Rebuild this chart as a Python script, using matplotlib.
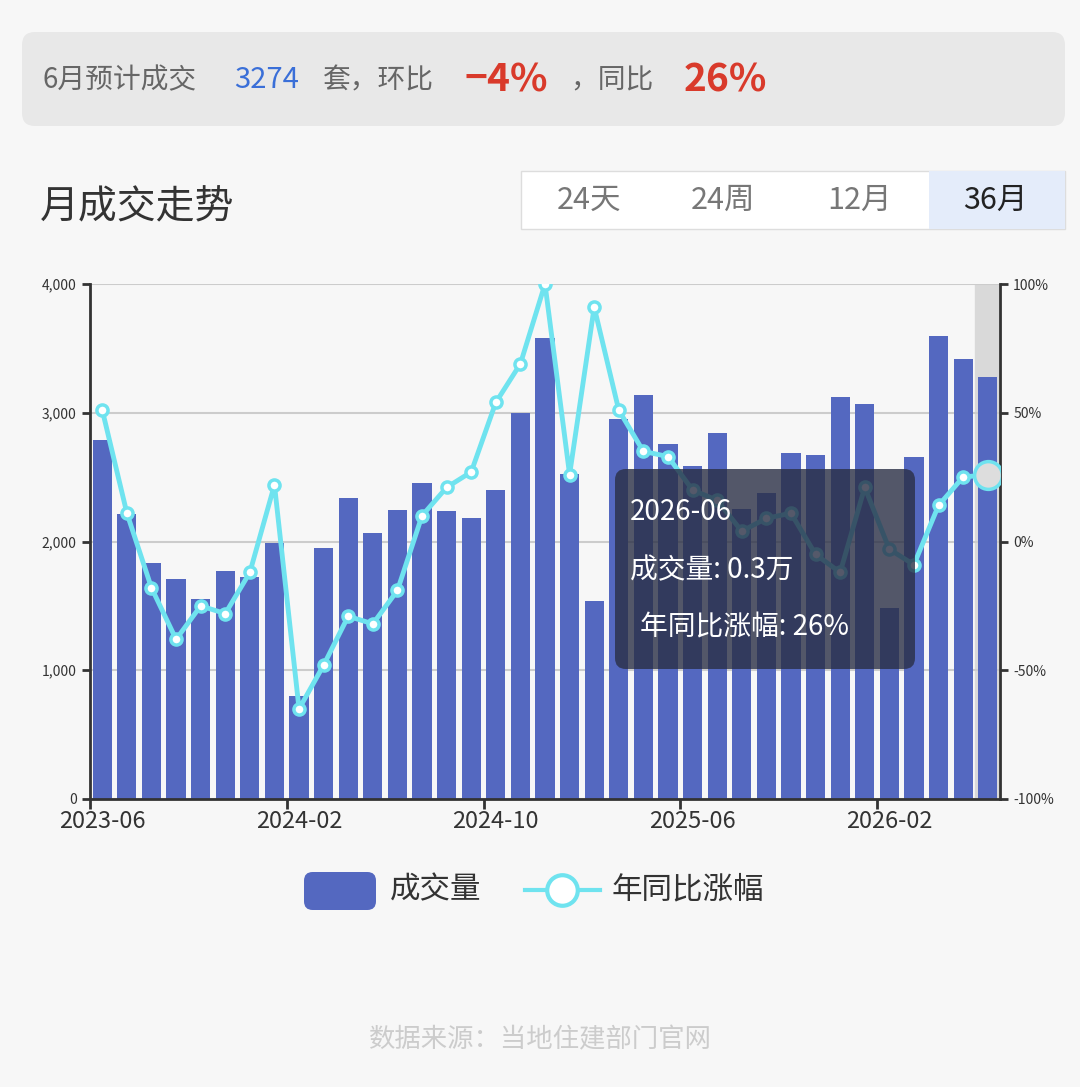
import matplotlib.pyplot as plt
import numpy as np
from matplotlib.patches import FancyBboxPatch, Rectangle

plt.rcParams['font.family'] = ['Noto Sans CJK SC', 'DejaVu Sans']

months = ['2023-06', '2023-07', '2023-08', '2023-09', '2023-10', '2023-11', '2023-12',
          '2024-01', '2024-02', '2024-03', '2024-04', '2024-05', '2024-06', '2024-07',
          '2024-08', '2024-09', '2024-10', '2024-11', '2024-12', '2025-01', '2025-02',
          '2025-03', '2025-04', '2025-05', '2025-06', '2025-07', '2025-08', '2025-09',
          '2025-10', '2025-11', '2025-12', '2026-01', '2026-02', '2026-03', '2026-04',
          '2026-05', '2026-06']
volume = [2790, 2214, 1833, 1709, 1553, 1771, 1724, 1988, 800, 1950, 2338, 2066, 2245,
          2454, 2237, 2183, 2400, 3000, 3580, 2524, 1538, 2951, 3138, 2757, 2587, 2843,
          2250, 2376, 2687, 2672, 3122, 3068, 1483, 2656, 3596, 3417, 3274]
yoy = [51, 11, -18, -38, -25, -28, -12, 22, -65, -48, -29, -32, -19, 10, 21, 27, 54, 69,
       100, 26, 91, 51, 35, 33, 20, 16, 4, 9, 11, -5, -12, 21, -3, -9, 14, 25, 26]
tick_idx = [0, 8, 16, 24, 32]

bar_color = '#5468c0'
line_color = '#6fe3ef'
bg = '#f7f7f7'

fig = plt.figure(figsize=(10.8, 10.87), dpi=100, facecolor=bg)
W, H = 1080, 1087

def fx(px):
    return px / W

def fy(py):
    return 1 - py / H

# header box
fig.patches.append(FancyBboxPatch((fx(22), fy(126)), fx(1043), 94 / H,
                                  boxstyle='round,pad=0,rounding_size=0.012',
                                  transform=fig.transFigure, facecolor='#e8e8e8',
                                  edgecolor='none'))
yh = fy(80)
fig.text(fx(42), yh, '6月预计成交', fontsize=20, color='#666666', va='center')
fig.text(fx(234), yh, '3274', fontsize=21, color='#3a6fd8', va='center')
fig.text(fx(323), yh, '套，环比', fontsize=20, color='#666666', va='center')
fig.text(fx(465), yh, '−4%', fontsize=28, color='#d93a2b', va='center', fontweight='bold')
fig.text(fx(570), yh, '，同比', fontsize=20, color='#666666', va='center')
fig.text(fx(684), yh, '26%', fontsize=28, color='#d93a2b', va='center', fontweight='bold')

fig.text(fx(40), fy(207), '月成交走势', fontsize=28, color='#333333', va='center')

# segmented buttons
fig.patches.append(Rectangle((fx(521), fy(229)), fx(544), 58 / H, transform=fig.transFigure,
                             facecolor='white', edgecolor='#dddddd', lw=1))
fig.patches.append(Rectangle((fx(929), fy(229)), fx(136), 58 / H, transform=fig.transFigure,
                             facecolor='#e4ecfa', edgecolor='none'))
for lab, cx, c in [('24天', 589, '#777777'), ('24周', 723, '#777777'),
                   ('12月', 859, '#777777'), ('36月', 995, '#222222')]:
    fig.text(fx(cx), fy(200), lab, fontsize=22, color=c, ha='center', va='center')

ax = fig.add_axes([fx(90), fy(799), fx(910), 515 / H])
ax.set_facecolor(bg)
x = np.arange(len(months))
ax.axvspan(len(months) - 1.5, len(months) - 0.5, color='#d9d9d9', zorder=0)
ax.bar(x, volume, width=0.78, color=bar_color, zorder=2)
ax.set_xlim(-0.5, len(months) - 0.5)
ax.set_ylim(0, 4000)
ax.set_yticks([0, 1000, 2000, 3000, 4000])
ax.set_yticklabels(['0', '1,000', '2,000', '3,000', '4,000'], fontsize=10, color='#333333')
ax.grid(axis='y', color='#cccccc', lw=1.5, zorder=1)
ax.set_axisbelow(True)
ax.set_xticks(tick_idx)
ax.set_xticklabels([months[i] for i in tick_idx], fontsize=17, color='#333333')
ax.tick_params(axis='x', length=0, pad=8)
ax.set_xticks([i - 0.5 for i in tick_idx], minor=True)
ax.tick_params(axis='x', which='minor', length=7, width=2, color='#333333')
ax.tick_params(axis='y', length=6, width=2, color='#333333')
for s in ['top', 'right']:
    ax.spines[s].set_visible(False)
for s in ['left', 'bottom']:
    ax.spines[s].set_linewidth(2)
    ax.spines[s].set_color('#333333')

ax2 = ax.twinx()
ax2.set_ylim(-100, 100)
ax2.set_yticks([-100, -50, 0, 50, 100])
ax2.set_yticklabels(['-100%', '-50%', '0%', '50%', '100%'], fontsize=10, color='#333333')
ax2.tick_params(axis='y', length=6, width=2, color='#333333')
for s in ['top', 'left', 'bottom']:
    ax2.spines[s].set_visible(False)
ax2.spines['right'].set_linewidth(2)
ax2.spines['right'].set_color('#333333')
ax2.plot(x, yoy, color=line_color, lw=3.5, marker='o', ms=8, mfc='white',
         mec=line_color, mew=2.5, zorder=3)
ax2.plot(x[-1], yoy[-1], marker='o', ms=20, mfc='#dddddd', mec=line_color, mew=2.5, zorder=4)

# tooltip
fig.patches.append(FancyBboxPatch((fx(615), fy(669)), fx(300), 200 / H,
                                  boxstyle='round,pad=0,rounding_size=0.01',
                                  transform=fig.transFigure, facecolor='#2a2f45',
                                  alpha=0.8, edgecolor='none', zorder=5))
fig.text(fx(630), fy(512), months[-1], fontsize=20, color='white', va='center', zorder=6)
fig.text(fx(630), fy(570), '成交量: 0.3万', fontsize=20, color='white', va='center', zorder=6)
fig.text(fx(640), fy(628), '年同比涨幅: 26%', fontsize=20, color='white', va='center', zorder=6)

# legend
fig.patches.append(FancyBboxPatch((fx(304), fy(910)), fx(72), 38 / H,
                                  boxstyle='round,pad=0,rounding_size=0.008',
                                  transform=fig.transFigure, facecolor=bar_color,
                                  edgecolor='none'))
fig.text(fx(390), fy(890), '成交量', fontsize=22, color='#333333', va='center')
fig.lines.append(plt.Line2D([fx(525), fx(600)], [fy(890), fy(890)], transform=fig.transFigure,
                            color=line_color, lw=3))
fig.lines.append(plt.Line2D([fx(562)], [fy(890)], transform=fig.transFigure, marker='o',
                            ms=22, mfc='white', mec=line_color, mew=3))
fig.text(fx(612), fy(890), '年同比涨幅', fontsize=22, color='#333333', va='center')

fig.text(0.5, fy(1040), '数据来源：当地住建部门官网', fontsize=19, color='#cccccc',
         ha='center', va='center')

fig.savefig('out.png', dpi=100, facecolor=bg)
